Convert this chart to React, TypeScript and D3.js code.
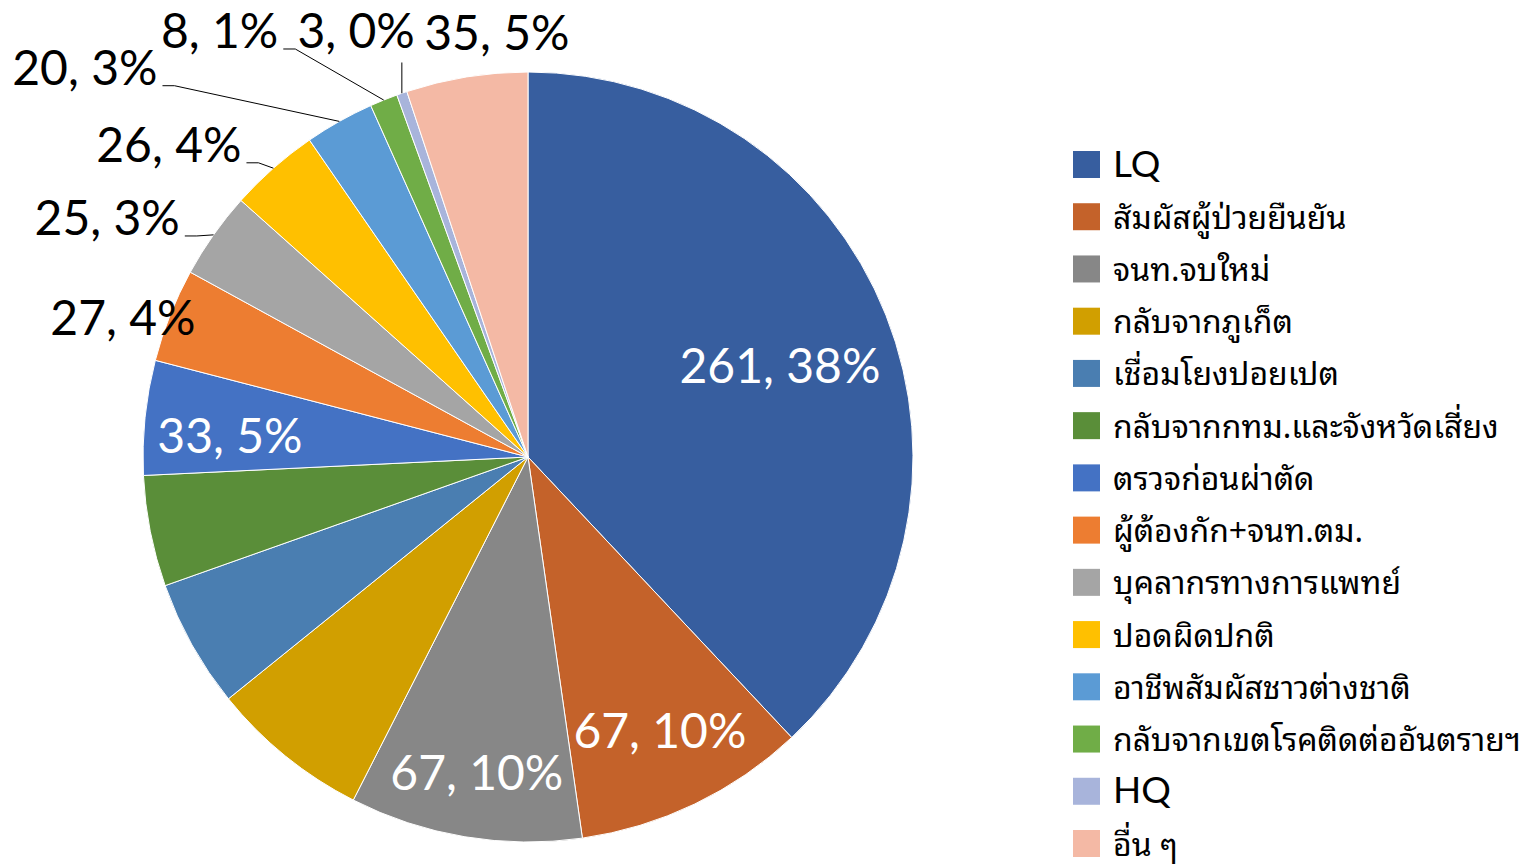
import React, { useRef, useEffect } from "react";
import * as d3 from "d3";

const categories = [
  "LQ",
  "สัมผัสผู้ป่วยยืนยัน",
  "จนท.จบใหม่",
  "กลับจากภูเก็ต",
  "เชื่อมโยงปอยเปต",
  "กลับจากกทม.และจังหวัดเสี่ยง",
  "ตรวจก่อนผ่าตัด",
  "ผู้ต้องกัก+จนท.ตม.",
  "บุคลากรทางการแพทย์",
  "ปอดผิดปกติ",
  "อาชีพสัมผัสชาวต่างชาติ",
  "กลับจากเขตโรคติดต่ออันตรายฯ",
  "HQ",
  "อื่น ๆ",
];

const values = [261, 67, 67, 46, 37, 32, 33, 27, 25, 26, 20, 8, 3, 35];

// percentages as printed on the chart
const percents = [38, 10, 10, 7, 5, 5, 5, 4, 3, 4, 3, 1, 0, 5];

const colors = [
  "#375E9F",
  "#C4622A",
  "#878787",
  "#D19F00",
  "#4A7EB1",
  "#5A8E39",
  "#4472C4",
  "#ED7D31",
  "#A5A5A5",
  "#FFC000",
  "#5B9BD5",
  "#70AD47",
  "#A8B4DB",
  "#F4B9A5",
];

// label placement: [angle deg, radius factor], inside or outside; null = no label
type Place = { inside: boolean; a: number; k: number } | null;
const placements: Place[] = [
  { inside: true, a: 70.1, k: 0.696 },
  { inside: true, a: 154.3, k: 0.79 },
  { inside: true, a: 189.2, k: 0.831 },
  null,
  null,
  null,
  { inside: true, a: 274.0, k: 0.776 },
  { inside: false, a: 288.9, k: 1.112 },
  { inside: false, a: 299.6, k: 1.257 },
  { inside: false, a: 311.0, k: 1.236 },
  { inside: false, a: 311.3, k: 1.532 },
  { inside: false, a: 324.1, k: 1.366 },
  { inside: false, a: 338.0, k: 1.192 },
  { inside: false, a: 355.8, k: 1.104 },
];

const W = 1534;
const H = 864;
const cx = 528;
const cy = 457;
const R = 385;
const LABEL_FONT = "Lato, Calibri, 'Noto Sans', sans-serif";
const THAI_FONT =
  "'Noto Sans Thai Looped', Loma, Garuda, Waree, Norasi, Sawasdee, Tahoma, 'Noto Sans Thai', sans-serif";

const polar = (deg: number, r: number): [number, number] => {
  const t = (deg * Math.PI) / 180;
  return [cx + r * Math.sin(t), cy - r * Math.cos(t)];
};

const App: React.FC = () => {
  const svgRef = useRef<SVGSVGElement>(null);

  useEffect(() => {
    if (!svgRef.current) return;
    const svg = d3.select(svgRef.current);
    svg.selectAll("*").remove();

    const pie = d3.pie<number>().sort(null).value((d) => d);
    const arcs = pie(values);
    const arc = d3.arc<d3.PieArcDatum<number>>().innerRadius(0).outerRadius(R);

    const g = svg.append("g").attr("transform", `translate(${cx},${cy})`);
    g.selectAll("path")
      .data(arcs)
      .join("path")
      .attr("d", arc)
      .attr("fill", (_, i) => colors[i])
      .attr("stroke", "#ffffff")
      .attr("stroke-width", 1);

    const labels = svg.append("g");
    arcs.forEach((d, i) => {
      const p = placements[i];
      if (!p) return;
      const mid = (((d.startAngle + d.endAngle) / 2) * 180) / Math.PI;
      const txt = `${values[i]}, ${percents[i]}%`;
      const [x, y] = polar(p.a, R * p.k);
      const base = y + 17;
      const t = labels
        .append("text")
        .attr("x", x)
        .attr("y", base)
        .attr("text-anchor", "middle")
        .attr("font-family", LABEL_FONT)
        .attr("font-size", 48)
        .attr("fill", p.inside ? "#ffffff" : "#000000")
        .text(txt);
      if (p.inside) return;
      const bb = (t.node() as SVGTextElement).getBBox();
      const [ex, ey] = polar(mid, R);
      const right = bb.x + bb.width;
      const bottom = bb.y + bb.height;
      const dx = Math.max(bb.x - ex, 0, ex - right);
      const dy = Math.max(bb.y - ey, 0, ey - bottom);
      if (Math.hypot(dx, dy) < 20) return;
      let pts: [number, number][];
      if (ex >= bb.x && ex <= right) {
        pts = [
          [ex, ey],
          [ex, bottom + 4],
        ];
      } else {
        pts = [
          [ex, ey],
          [right + 17, base + 1],
          [right + 5, base + 1],
        ];
      }
      labels
        .append("path")
        .attr("d", d3.line()(pts))
        .attr("fill", "none")
        .attr("stroke", "#000000")
        .attr("stroke-width", 1);
    });

    const legend = svg.append("g");
    const rowY = d3.scalePoint<number>().domain(d3.range(categories.length)).range([164.5, 843.5]);
    categories.forEach((c, i) => {
      const yc = rowY(i) as number;
      legend
        .append("rect")
        .attr("x", 1073)
        .attr("y", yc - 13.5)
        .attr("width", 27)
        .attr("height", 27)
        .attr("fill", colors[i]);
      const latin = /^[A-Z]+$/.test(c);
      legend
        .append("text")
        .attr("x", 1113)
        .attr("y", yc + 12)
        .attr("font-family", latin ? LABEL_FONT : THAI_FONT)
        .attr("font-size", latin ? 37 : 32)
        .attr("fill", "#000000")
        .text(c);
    });

    return () => {
      svg.selectAll("*").remove();
    };
  }, []);

  return (
    <svg
      ref={svgRef}
      width={W}
      height={H}
      style={{ position: "absolute", left: 0, top: 0, background: "#ffffff" }}
    />
  );
};

export default App;
